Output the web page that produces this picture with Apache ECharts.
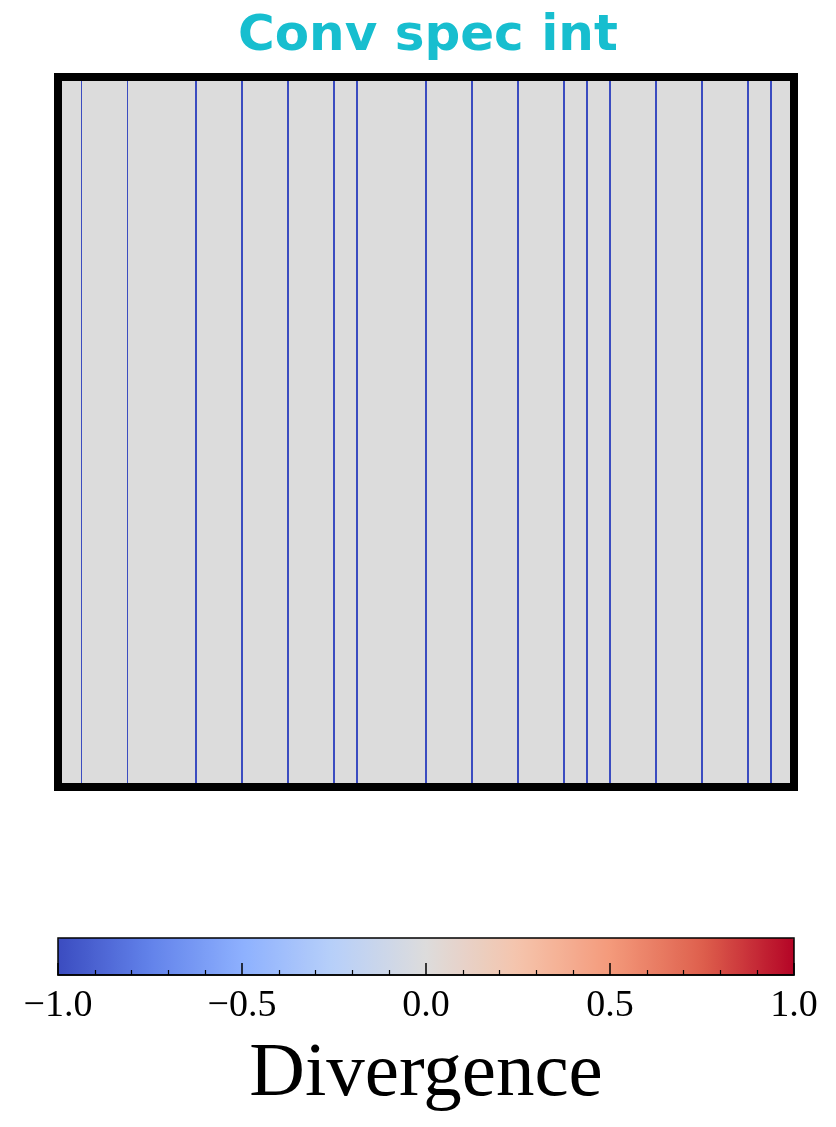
<!DOCTYPE html>
<html>
<head>
<meta charset="utf-8">
<script src="https://cdn.jsdelivr.net/npm/echarts@6/dist/echarts.min.js"></script>
<style>
  html, body { margin: 0; padding: 0; background: #ffffff; }
  #chart { width: 836px; height: 1127px; }
</style>
</head>
<body>
<div id="chart"></div>
<script>
// ---- data ----
const chartTitle = 'Conv spec int';
const colorbarLabel = 'Divergence';
const xMin = 0;
const xMax = 32;
const thinLinePositions = [1, 3];
const thickLinePositions = [6, 8, 10, 12, 13, 16, 18, 20, 22, 23, 24, 26, 28, 30, 31];
const lineDivergence = -1.0;
const colorbarMin = -1.0;
const colorbarMax = 1.0;
const colorbarInterval = 0.5;
const coolwarmStops = ['#3b4cc0', '#6282ea', '#8db0fe', '#b8d0f9', '#dddcdc', '#f5c4ac', '#f49a7b', '#de604d', '#b40426'];

// colour of a divergence value on the coolwarm scale (for the line marks)
function coolwarm(v) {
  const t = (v - colorbarMin) / (colorbarMax - colorbarMin);
  const idx = Math.round(t * (coolwarmStops.length - 1));
  return coolwarmStops[Math.max(0, Math.min(coolwarmStops.length - 1, idx))];
}
const lineColor = coolwarm(lineDivergence);

const frameLine = { show: true, onZero: false, lineStyle: { color: '#000', width: 8, cap: 'square' } };
const noAxisBits = { axisTick: { show: false }, axisLabel: { show: false }, splitLine: { show: false } };

const markData = []
  .concat(thinLinePositions.map(x => ({ xAxis: x, lineStyle: { width: 1, color: lineColor, type: 'solid' } })))
  .concat(thickLinePositions.map(x => ({ xAxis: x, lineStyle: { width: 2, color: lineColor, type: 'solid' } })));

const chart = echarts.init(document.getElementById('chart'), null, { renderer: 'canvas' });
chart.setOption({
  animation: false,
  backgroundColor: '#ffffff',
  title: {
    text: chartTitle,
    left: 238,
    top: 12,
    padding: 0,
    textStyle: { fontFamily: 'DejaVu Sans', fontWeight: 'bold', fontSize: 50, color: '#17becf' }
  },
  grid: [
    { left: 58, right: 42, top: 77, bottom: 340, show: true, backgroundColor: '#dcdcdc', borderWidth: 0 },
    { left: 58, right: 42, top: 938, height: 37, show: true, backgroundColor: 'transparent', borderColor: '#000', borderWidth: 1.5, z: 6 }
  ],
  xAxis: [
    Object.assign({ type: 'value', gridIndex: 0, min: xMin, max: xMax, position: 'bottom', axisLine: frameLine, z: 10 }, noAxisBits),
    Object.assign({ type: 'value', gridIndex: 0, min: xMin, max: xMax, position: 'top', axisLine: frameLine, z: 10 }, noAxisBits),
    {
      type: 'value', gridIndex: 1, min: colorbarMin, max: colorbarMax, interval: colorbarInterval, position: 'bottom', z: 7,
      axisLine: { show: true, onZero: false, lineStyle: { color: '#000', width: 1.5 } },
      axisTick: { show: true, inside: true, length: 12, lineStyle: { color: '#000', width: 1.5 } },
      minorTick: { show: true, splitNumber: 5, length: 5, lineStyle: { color: '#000', width: 1.2 } },
      splitLine: { show: false },
      axisLabel: {
        show: true, margin: 12, color: '#000', fontFamily: 'Liberation Serif', fontSize: 38,
        formatter: v => (v < 0 ? '\u2212' : '') + Math.abs(v).toFixed(1)
      },
      name: colorbarLabel, nameLocation: 'middle', nameGap: 61,
      nameTextStyle: { color: '#000', fontFamily: 'Liberation Serif', fontSize: 77 }
    }
  ],
  yAxis: [
    Object.assign({ type: 'value', gridIndex: 0, min: 0, max: 1, position: 'left', axisLine: frameLine, z: 10 }, noAxisBits),
    Object.assign({ type: 'value', gridIndex: 0, min: 0, max: 1, position: 'right', axisLine: frameLine, z: 10 }, noAxisBits),
    Object.assign({ type: 'value', gridIndex: 1, min: 0, max: 1, axisLine: { show: false } }, noAxisBits)
  ],
  visualMap: {
    type: 'continuous',
    orient: 'horizontal',
    min: colorbarMin,
    max: colorbarMax,
    left: 58,
    top: 938,
    padding: 0,
    itemWidth: 37,
    itemHeight: 736,
    calculable: false,
    showLabel: false,
    text: null,
    seriesIndex: 1,
    inRange: { color: coolwarmStops },
    z: 4
  },
  series: [
    {
      type: 'line', xAxisIndex: 0, yAxisIndex: 0, data: [], silent: true,
      markLine: { symbol: 'none', silent: true, label: { show: false }, animation: false, data: markData }
    },
    { type: 'scatter', xAxisIndex: 2, yAxisIndex: 2, data: [], silent: true }
  ]
});
</script>
</body>
</html>
